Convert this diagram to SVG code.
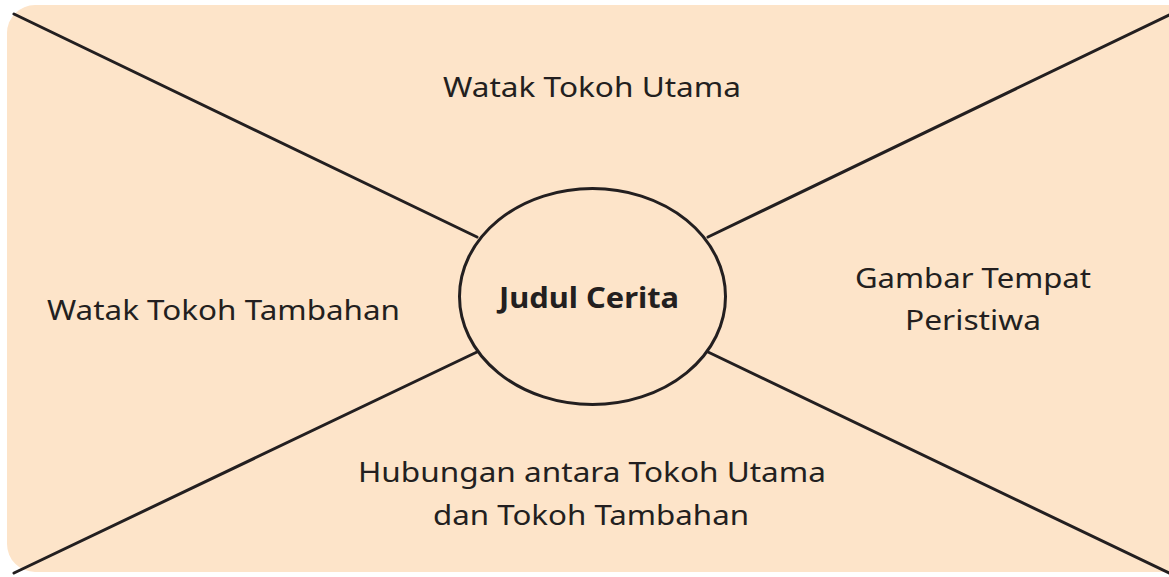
<svg xmlns="http://www.w3.org/2000/svg" width="1169" height="577" viewBox="0 0 1169 577">
  <style>
    .bg { fill: #fde4c9; }
    .ln { stroke: #231f20; stroke-width: 3; fill: none; stroke-linecap: round; }
    .t { font-family: "Noto Sans", "Open Sans", "Liberation Sans", sans-serif; font-size: 27px; fill: #231f20; text-anchor: middle; }
    .b { font-weight: bold; font-size: 28px; }
  </style>
  <rect width="1169" height="577" fill="#ffffff"/>
  <rect class="bg" x="7" y="5" width="1200" height="567" rx="28" ry="28"/>
  <g id="connectors">
    <line class="ln" x1="14" y1="14" x2="477" y2="237"/>
    <line class="ln" x1="1169" y1="15" x2="708" y2="237"/>
    <line class="ln" x1="14" y1="573" x2="477" y2="352"/>
    <line class="ln" x1="708" y1="352" x2="1169" y2="573"/>
  </g>
  <g id="center">
    <ellipse cx="592.5" cy="296.5" rx="133" ry="108" fill="#fde4c9" stroke="#231f20" stroke-width="3"/>
    <text class="t b" x="589" y="308" textLength="180" lengthAdjust="spacingAndGlyphs">Judul Cerita</text>
  </g>
  <g id="top">
    <text class="t" x="592" y="97" textLength="298" lengthAdjust="spacingAndGlyphs">Watak Tokoh Utama</text>
  </g>
  <g id="left">
    <text class="t" x="223.5" y="320" textLength="353" lengthAdjust="spacingAndGlyphs">Watak Tokoh Tambahan</text>
  </g>
  <g id="right">
    <text class="t" x="973" y="288" textLength="236" lengthAdjust="spacingAndGlyphs">Gambar Tempat</text>
    <text class="t" x="973" y="330" textLength="136" lengthAdjust="spacingAndGlyphs">Peristiwa</text>
  </g>
  <g id="bottom">
    <text class="t" x="592" y="482" textLength="468" lengthAdjust="spacingAndGlyphs">Hubungan antara Tokoh Utama</text>
    <text class="t" x="591" y="525" textLength="316" lengthAdjust="spacingAndGlyphs">dan Tokoh Tambahan</text>
  </g>
</svg>
